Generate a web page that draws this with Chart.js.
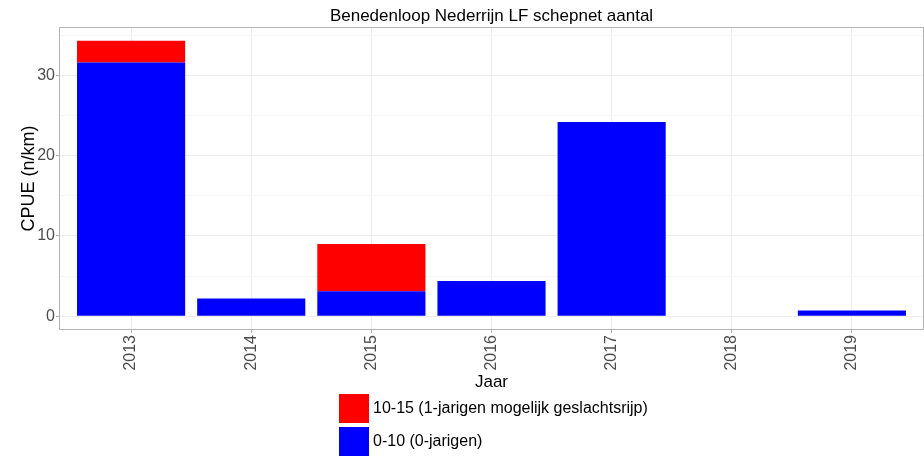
<!DOCTYPE html>
<html>
<head>
<meta charset="utf-8">
<script src="https://cdn.jsdelivr.net/npm/chart.js@4"></script>
<style>
  html, body { margin: 0; padding: 0; background: #ffffff; }
  #wrap { width: 924px; height: 456px; }
</style>
</head>
<body>
<div id="wrap"><canvas id="c" width="924" height="456"></canvas></div>
<script>
// Vangst per eenheid inspanning (n/km), per jaar en lengteklasse
const years = [2013, 2014, 2015, 2016, 2017, 2018, 2019];
const cpueAge0 = [31.6, 2.2, 3.1, 4.4, 24.2, 0, 0.7];   // 0-10 cm
const cpueAge1 = [2.7, 0, 5.9, 0, 0, 0, 0];             // 10-15 cm
const seriesLabels = ['0-10 (0-jarigen)', '10-15 (1-jarigen mogelijk geslachtsrijp)'];
const seriesColors = ['#0000ff', '#ff0000'];
const yTickValues = [0, 5, 10, 15, 20, 25, 30, 35];
const yTickLabels = ['0', '', '10', '', '20', '', '30', ''];

const FONT = "'Liberation Sans', Arial, Helvetica, sans-serif";
const GRID_MAJOR = '#ededed';
const GRID_MINOR = '#f7f7f7';
const AXIS_GREY = '#b3b3b3';

// stacked totals set the value range, padded by 5% on both ends
const totals = years.map((_, i) => cpueAge0[i] + cpueAge1[i]);
const yTop = Math.max(...totals);
const yPad = yTop * 0.05;

// grey frame around the plotting panel
const panelBorder = {
  id: 'panelBorder',
  afterDatasetsDraw(chart) {
    const { ctx, chartArea: a } = chart;
    ctx.save();
    ctx.strokeStyle = AXIS_GREY;
    ctx.lineWidth = 1;
    ctx.strokeRect(a.left + 0.5, a.top + 0.5, a.right - a.left - 1, a.bottom - a.top - 1);
    ctx.restore();
  }
};

// vertical legend under the axis title, top of the stack listed first
const stackLegend = {
  id: 'stackLegend',
  afterDraw(chart) {
    const { ctx, chartArea: a } = chart;
    const items = chart.data.datasets.slice().reverse();
    ctx.save();
    ctx.font = '16px ' + FONT;
    const textW = Math.max(...items.map(d => ctx.measureText(d.label).width));
    const keyW = 30, keyH = 29, gap = 4, rowStep = 33;
    const left = Math.round((a.left + a.right) / 2 - (keyW + gap + textW) / 2) + 2;
    let top = 394;
    ctx.textBaseline = 'middle';
    ctx.textAlign = 'left';
    items.forEach(d => {
      ctx.fillStyle = d.backgroundColor;
      ctx.fillRect(left, top, keyW, keyH);
      ctx.fillStyle = '#000000';
      ctx.fillText(d.label, left + keyW + gap, top + keyH / 2 + 0.5);
      top += rowStep;
    });
    ctx.restore();
  }
};

new Chart(document.getElementById('c'), {
  type: 'bar',
  data: {
    datasets: [
      {
        label: seriesLabels[0],
        data: years.map((y, i) => ({ x: y, y: cpueAge0[i] })),
        backgroundColor: seriesColors[0]
      },
      {
        label: seriesLabels[1],
        data: years.map((y, i) => ({ x: y, y: cpueAge1[i] })),
        backgroundColor: seriesColors[1]
      }
    ]
  },
  options: {
    responsive: false,
    animation: false,
    devicePixelRatio: 1,
    layout: { padding: 0 },
    datasets: { bar: { barPercentage: 0.9, categoryPercentage: 1, borderWidth: 0 } },
    plugins: {
      legend: { display: false },
      tooltip: { enabled: false },
      title: {
        display: true,
        fullSize: false,
        text: 'Benedenloop Nederrijn LF schepnet aantal',
        color: '#000000',
        font: { family: FONT, size: 17, weight: 'normal' },
        padding: { top: 6, bottom: 0.6 }
      }
    },
    scales: {
      x: {
        type: 'linear',
        stacked: true,
        offset: false,
        min: years[0] - 0.6,
        max: years[years.length - 1] + 0.6,
        afterBuildTicks: s => { s.ticks = years.map(v => ({ value: v })); },
        afterFit: s => { s.height = 126; },
        ticks: {
          autoSkip: false,
          minRotation: 90,
          maxRotation: 90,
          padding: 2,
          color: '#4d4d4d',
          font: { family: FONT, size: 16 },
          callback: v => String(v)
        },
        grid: { offset: false, color: GRID_MAJOR, lineWidth: 1, tickLength: 3, tickColor: AXIS_GREY },
        border: { display: false },
        title: {
          display: true,
          text: 'Jaar',
          color: '#000000',
          font: { family: FONT, size: 17 },
          padding: { top: 0, bottom: 63 }
        }
      },
      y: {
        stacked: true,
        min: -yPad,
        max: yTop + yPad,
        afterBuildTicks: s => { s.ticks = yTickValues.map(v => ({ value: v })); },
        afterFit: s => { s.width = 59; },
        ticks: {
          padding: 1,
          color: '#4d4d4d',
          font: { family: FONT, size: 16 },
          callback: v => yTickLabels[yTickValues.indexOf(v)]
        },
        grid: {
          lineWidth: 1,
          tickLength: 3,
          color: c => (c.tick && c.tick.value % 10 === 0) ? GRID_MAJOR : GRID_MINOR,
          tickColor: c => (c.tick && c.tick.value % 10 === 0) ? AXIS_GREY : 'rgba(0,0,0,0)'
        },
        border: { display: false },
        title: {
          display: true,
          text: 'CPUE (n/km)',
          color: '#000000',
          font: { family: FONT, size: 18 },
          padding: { top: 18, bottom: 0 }
        }
      }
    }
  },
  plugins: [panelBorder, stackLegend]
});
</script>
</body>
</html>
